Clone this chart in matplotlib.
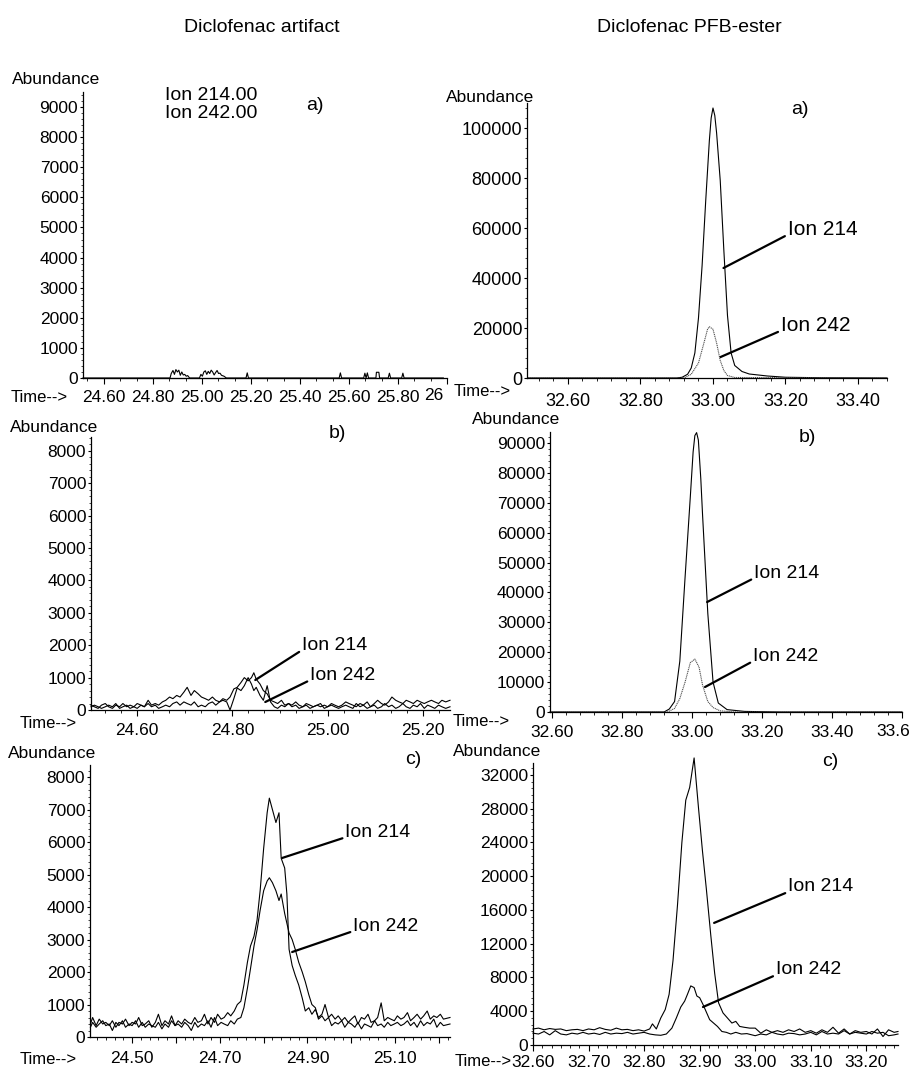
import matplotlib.pyplot as plt
from matplotlib.ticker import AutoMinorLocator

plt.rcParams["font.family"] = ["Liberation Sans", "DejaVu Sans"]

W, H = 911, 1071

# ---------------- Diclofenac artifact (left column) ----------------
# a) only a few small blips near zero
art_a_t214 = [24.515, 24.87, 24.875, 24.882, 24.888, 24.894, 24.90, 24.906, 24.912, 24.918,
              24.924, 24.93, 24.936, 24.942, 24.95, 24.99, 24.996, 25.002, 25.008, 25.014,
              25.02, 25.026, 25.032, 25.038, 25.044, 25.05, 25.056, 25.062, 25.068, 25.074,
              25.08, 25.09, 25.10, 25.18, 25.185, 25.19, 25.56, 25.565, 25.57, 25.66,
              25.665, 25.67, 25.675, 25.68, 25.71, 25.712, 25.722, 25.725, 25.76, 25.765,
              25.77, 25.815, 25.82, 25.825, 25.985]
art_a_y214 = [0, 0, 150, 250, 120, 280, 200, 260, 90, 200,
              100, 120, 60, 80, 0, 0, 120, 60, 200, 240,
              120, 220, 150, 260, 200, 100, 180, 250, 150, 160,
              90, 60, 0, 0, 170, 0, 0, 170, 0, 0,
              160, 0, 170, 0, 0, 190, 190, 0, 0, 160,
              0, 0, 160, 0, 0]
art_a_t242 = [24.515, 25.985]
art_a_y242 = [0, 0]

# b)
art_b_t = [24.503, 24.51, 24.518, 24.525, 24.533, 24.54, 24.548, 24.555, 24.563, 24.57,
           24.578, 24.585, 24.593, 24.60, 24.608, 24.615, 24.623, 24.63, 24.638, 24.645,
           24.653, 24.66, 24.668, 24.675, 24.683, 24.69, 24.698, 24.705, 24.713, 24.72,
           24.728, 24.735, 24.743, 24.75, 24.758, 24.765, 24.773, 24.78, 24.788, 24.795,
           24.803, 24.81, 24.818, 24.825, 24.833, 24.84, 24.845, 24.85, 24.858, 24.865,
           24.873, 24.88, 24.888, 24.895, 24.903, 24.91, 24.918, 24.925, 24.933, 24.94,
           24.948, 24.955, 24.963, 24.97, 24.978, 24.985, 24.993, 25.00, 25.008, 25.015,
           25.023, 25.03, 25.038, 25.045, 25.053, 25.06, 25.068, 25.075, 25.083, 25.09,
           25.098, 25.105, 25.113, 25.12, 25.128, 25.135, 25.143, 25.15, 25.158, 25.165,
           25.173, 25.18, 25.188, 25.195, 25.203, 25.21, 25.218, 25.225, 25.233, 25.24,
           25.248, 25.257]
art_b_y214 = [150, 100, 50, 150, 200, 100, 50, 150, 100, 200,
              100, 150, 100, 200, 150, 100, 300, 150, 200, 150,
              250, 300, 400, 350, 450, 400, 550, 700, 450, 600,
              500, 400, 350, 300, 400, 300, 250, 350, 300, 400,
              650, 700, 850, 1000, 900, 1000, 1150, 950, 800, 600,
              500, 300, 250, 200, 300, 150, 200, 150, 250, 150,
              100, 200, 150, 100, 150, 100, 150, 100, 200, 150,
              100, 150, 250, 200, 150, 100, 200, 150, 250, 100,
              200, 300, 200, 150, 250, 400, 300, 250, 200, 300,
              250, 200, 300, 250, 200, 250, 300, 250, 200, 300,
              250, 300]
art_b_y242 = [100, 150, 100, 50, 100, 150, 100, 200, 50, 100,
              150, 50, 100, 50, 150, 100, 200, 100, 150, 50,
              100, 150, 100, 200, 250, 150, 250, 200, 150, 250,
              100, 150, 100, 200, 250, 150, 250, 300, 250, 0,
              350, 680, 600, 750, 1000, 800, 600, 700, 450, 300,
              750, 250, 100, 50, 150, 100, 200, 100, 150, 50,
              100, 150, 50, 100, 150, 200, 50, 100, 150, 100,
              50, 100, 150, 100, 50, 200, 100, 150, 50, 100,
              150, 50, 100, 200, 100, 150, 50, 100, 200, 100,
              50, 150, 100, 200, 50, 150, 100, 50, 150, 100,
              50, 100]

# c)
art_c_t = [24.405, 24.41, 24.418, 24.425, 24.433, 24.44, 24.448, 24.455, 24.463, 24.47,
           24.478, 24.485, 24.493, 24.50, 24.508, 24.515, 24.523, 24.53, 24.538, 24.545,
           24.553, 24.56, 24.568, 24.575, 24.583, 24.59, 24.598, 24.605, 24.613, 24.62,
           24.628, 24.635, 24.643, 24.65, 24.658, 24.665, 24.673, 24.68, 24.688, 24.695,
           24.703, 24.71, 24.718, 24.725, 24.733, 24.74, 24.748, 24.755, 24.763, 24.77,
           24.778, 24.785, 24.792, 24.80, 24.808, 24.813, 24.82, 24.828, 24.835, 24.84,
           24.848, 24.853, 24.858, 24.865, 24.872, 24.88, 24.888, 24.895, 24.903, 24.91,
           24.918, 24.925, 24.933, 24.94, 24.948, 24.955, 24.963, 24.97, 24.978, 24.985,
           24.993, 25.00, 25.008, 25.015, 25.023, 25.03, 25.038, 25.045, 25.053, 25.06,
           25.068, 25.075, 25.083, 25.09, 25.098, 25.105, 25.113, 25.12, 25.128, 25.135,
           25.143, 25.15, 25.158, 25.165, 25.173, 25.18, 25.188, 25.195, 25.203, 25.21,
           25.225]
art_c_y214 = [400, 600, 350, 550, 400, 450, 350, 500, 300, 450,
              400, 550, 350, 450, 400, 600, 350, 400, 500, 300,
              450, 700, 350, 500, 400, 650, 350, 500, 400, 550,
              450, 400, 600, 450, 500, 700, 400, 600, 450, 700,
              550, 600, 750, 650, 800, 1000, 1100, 1600, 2300, 2800,
              3100, 3600, 4500, 5800, 6900, 7350, 7000, 6600, 6900, 5500,
              5200, 4400, 2700, 2200, 1900, 1600, 1200, 800, 900, 700,
              850, 600, 700, 1000, 600, 700, 550, 650, 500, 600,
              450, 550, 650, 400, 600, 550, 700, 450, 500, 600,
              1050, 500, 600, 550, 500, 650, 550, 600, 750, 500,
              600, 700, 550, 650, 800, 550, 650, 600, 700, 550,
              600]
art_c_y242 = [300, 450, 300, 400, 500, 350, 400, 200, 450, 350,
              500, 300, 400, 350, 500, 300, 450, 300, 400, 350,
              300, 450, 250, 400, 300, 500, 350, 400, 300, 450,
              350, 200, 450, 300, 400, 350, 500, 300, 600, 350,
              450, 400, 350, 500, 400, 550, 600, 900, 1500, 2100,
              2800, 3300, 3900, 4500, 4800, 4900, 4750, 4500, 4200, 4400,
              3800, 3500, 3200, 3000, 2700, 2300, 2000, 1700, 1300, 1000,
              900, 550, 650, 500, 600, 350, 450, 400, 500, 300,
              450, 400, 300, 450, 250, 400, 350, 300, 500, 350,
              400, 300, 450, 350, 400, 450, 350, 400, 500, 350,
              450, 300, 500, 350, 450, 400, 550, 300, 450, 350,
              400]

# ---------------- Diclofenac PFB-ester (right column) ----------------
pfb_a_t214 = [32.49, 32.90, 32.915, 32.93, 32.94, 32.95, 32.96, 32.97, 32.98, 32.99,
              32.995, 33.00, 33.005, 33.01, 33.02, 33.03, 33.04, 33.05, 33.06, 33.08,
              33.10, 33.15, 33.20, 33.30, 33.48]
pfb_a_y214 = [0, 0, 300, 1500, 4000, 10000, 24000, 45000, 71000, 95000,
              104000, 108000, 105000, 98000, 79000, 51000, 25000, 10000, 5000, 2600,
              1600, 800, 300, 100, 0]
pfb_a_t242 = [32.49, 32.92, 32.94, 32.96, 32.975, 32.985, 32.99, 33.00, 33.01, 33.02,
              33.03, 33.04, 33.06, 33.48]
pfb_a_y242 = [0, 0, 1500, 6000, 14000, 19500, 20500, 19500, 14000, 7000,
              3000, 1000, 200, 0]

pfb_b_t214 = [32.594, 32.92, 32.935, 32.95, 32.965, 32.98, 32.995, 33.003, 33.008, 33.013,
              33.018, 33.025, 33.03, 33.045, 33.06, 33.075, 33.10, 33.15, 33.25, 33.60]
pfb_b_y214 = [0, 0, 1000, 3500, 17000, 45000, 72000, 87000, 92500, 93500,
              91000, 78000, 66000, 33000, 10000, 3000, 800, 200, 0, 0]
pfb_b_t242 = [32.594, 32.93, 32.95, 32.965, 32.98, 32.995, 33.008, 33.02, 33.03, 33.045,
              33.06, 33.08, 33.12, 33.60]
pfb_b_y242 = [0, 0, 1200, 4500, 10000, 16500, 17700, 15000, 9000, 3500,
              1500, 400, 0, 0]

pfb_c_t214 = [32.600, 32.610, 32.620, 32.630, 32.640, 32.650, 32.660, 32.670, 32.680, 32.690,
              32.700, 32.710, 32.720, 32.730, 32.740, 32.750, 32.760, 32.770, 32.780, 32.790,
              32.800, 32.810, 32.815, 32.822, 32.830, 32.838, 32.845, 32.852, 32.860, 32.868,
              32.875, 32.882, 32.890, 32.898, 32.905, 32.912, 32.920, 32.927, 32.934, 32.942,
              32.950, 32.958, 32.965, 32.972, 32.980, 32.990, 33.000, 33.010, 33.020, 33.030,
              33.040, 33.050, 33.060, 33.070, 33.080, 33.090, 33.100, 33.110, 33.120, 33.130,
              33.140, 33.150, 33.160, 33.170, 33.180, 33.190, 33.200, 33.210, 33.220, 33.230,
              33.240, 33.250, 33.257]
pfb_c_y214 = [1900, 2000, 1800, 1950, 1850, 1900, 1700, 1800, 1850, 1700,
              1900, 1800, 2050, 1850, 1750, 2000, 1800, 1850, 1700, 1800,
              1650, 1900, 2500, 1900, 3200, 4200, 6000, 10000, 16500, 24000,
              29000, 30500, 34000, 28000, 23000, 18500, 13000, 8500, 5000, 3800,
              3200, 2600, 2800, 2200, 2100, 2000, 2000, 1400, 1800, 1500,
              1700, 1500, 1800, 1600, 1900, 1500, 1700, 1400, 1800, 1500,
              2100, 1400, 1900, 1300, 1700, 1500, 1600, 1300, 1900, 1000,
              1800, 1500, 1600]
pfb_c_t242 = [32.600, 32.610, 32.620, 32.630, 32.640, 32.650, 32.660, 32.670, 32.680, 32.690,
              32.700, 32.710, 32.720, 32.730, 32.740, 32.750, 32.760, 32.770, 32.780, 32.790,
              32.800, 32.810, 32.820, 32.830, 32.840, 32.850, 32.858, 32.866, 32.873, 32.878,
              32.884, 32.890, 32.895, 32.900, 32.906, 32.912, 32.918, 32.925, 32.932, 32.940,
              32.948, 32.956, 32.965, 32.975, 32.985, 33.000, 33.010, 33.020, 33.030, 33.040,
              33.050, 33.060, 33.070, 33.080, 33.090, 33.100, 33.110, 33.120, 33.130, 33.140,
              33.150, 33.160, 33.170, 33.180, 33.190, 33.200, 33.210, 33.220, 33.230, 33.240,
              33.250, 33.257]
pfb_c_y242 = [1400, 1300, 1600, 1200, 1700, 1300, 1200, 1400, 1300, 1500,
              1300, 1400, 1250, 1500, 1300, 1400, 1350, 1500, 1300, 1400,
              1500, 1300, 1200, 1150, 1300, 2000, 3200, 4500, 5200, 6000,
              7000, 6800, 5800, 5600, 4800, 3900, 3000, 2600, 2200, 1600,
              1500, 1300, 1500, 1300, 1350, 1100, 1300, 1200, 1500, 1300,
              1200, 1400, 1350, 1200, 1300, 1500, 1200, 1600, 1300, 1400,
              1300, 1700, 1300, 1500, 1400, 1300, 1600, 1400, 1500, 1100,
              1200, 1300]

# tick labels (the last label of a) and b) is cut off in the original, drawn separately)
art_a_xticks = [24.6, 24.8, 25.0, 25.2, 25.4, 25.6, 25.8, 26.0]
art_a_xlabels = ["24.60", "24.80", "25.00", "25.20", "25.40", "25.60", "25.80", ""]
art_a_yticks = [0, 1000, 2000, 3000, 4000, 5000, 6000, 7000, 8000, 9000]
art_b_xticks = [24.6, 24.8, 25.0, 25.2]
art_b_xlabels = ["24.60", "24.80", "25.00", "25.20"]
art_b_yticks = [0, 1000, 2000, 3000, 4000, 5000, 6000, 7000, 8000]
art_c_xticks = [24.5, 24.6, 24.7, 24.8, 24.9, 25.0, 25.1, 25.2]
art_c_xlabels = ["24.50", "", "24.70", "", "24.90", "", "25.10", ""]
art_c_yticks = [0, 1000, 2000, 3000, 4000, 5000, 6000, 7000, 8000]
pfb_a_xticks = [32.6, 32.8, 33.0, 33.2, 33.4]
pfb_a_xlabels = ["32.60", "32.80", "33.00", "33.20", "33.40"]
pfb_a_yticks = [0, 20000, 40000, 60000, 80000, 100000]
pfb_b_xticks = [32.6, 32.8, 33.0, 33.2, 33.4, 33.6]
pfb_b_xlabels = ["32.60", "32.80", "33.00", "33.20", "33.40", ""]
pfb_b_yticks = [0, 10000, 20000, 30000, 40000, 50000, 60000, 70000, 80000, 90000]
pfb_c_xticks = [32.6, 32.7, 32.8, 32.9, 33.0, 33.1, 33.2]
pfb_c_xlabels = ["32.60", "32.70", "32.80", "32.90", "33.00", "33.10", "33.20"]
pfb_c_yticks = [0, 4000, 8000, 12000, 16000, 20000, 24000, 28000, 32000]


def px_to_fig(px, py):
    return px / W, 1 - py / H


def make_axes(fig, box, xlim, ylim, xticks, xlabels, yticks, xminor, xpad, fs=12.5):
    l, t, r, b = box
    ax = fig.add_axes([l / W, 1 - b / H, (r - l) / W, (b - t) / H])
    ax.set_xlim(*xlim)
    ax.set_ylim(*ylim)
    ax.spines["top"].set_visible(False)
    ax.spines["right"].set_visible(False)
    ax.spines["left"].set_linewidth(0.9)
    ax.spines["bottom"].set_linewidth(0.9)
    ax.set_xticks(xticks, xlabels)
    ax.set_yticks(yticks, [str(v) for v in yticks])
    ax.xaxis.set_minor_locator(AutoMinorLocator(xminor))
    ax.yaxis.set_minor_locator(AutoMinorLocator(5))
    ax.tick_params(axis="x", which="major", direction="out", length=4, width=0.8,
                   labelsize=fs, pad=xpad)
    ax.tick_params(axis="x", which="minor", direction="out", length=2.5, width=0.6)
    ax.tick_params(axis="y", which="major", direction="out", length=2, width=0.8,
                   labelsize=fs, pad=1.5)
    ax.tick_params(axis="y", which="minor", direction="out", length=1.2, width=0.5)
    ax.patch.set_alpha(0)
    return ax


def ion_label(ax, text, xy, xytext, fs=14):
    ax.annotate(text, xy=xy, xytext=xytext, fontsize=fs, ha="left", va="center",
                arrowprops=dict(arrowstyle="-", lw=1.6, color="black",
                                shrinkA=0, shrinkB=0, relpos=(0, 0.2)))


def main():
    fig = plt.figure(figsize=(W / 100, H / 100), dpi=100)

    solid = dict(color="black", lw=0.8, clip_on=False)
    dotted = dict(color="0.3", lw=0.8, ls=(0, (1, 0.7)), clip_on=False)

    # column titles
    fig.text(*px_to_fig(262, 27), "Diclofenac artifact", fontsize=14, ha="center", va="center")
    fig.text(*px_to_fig(689, 27), "Diclofenac PFB-ester", fontsize=14, ha="center", va="center")

    # left a
    ax = make_axes(fig, (83, 92, 447, 378), (24.515, 26.0), (0, 9500),
                   art_a_xticks, art_a_xlabels, art_a_yticks, 3, 4.7)
    ax.plot(art_a_t214, art_a_y214, **solid)
    ax.plot(art_a_t242, art_a_y242, **solid)
    fig.text(*px_to_fig(12, 80), "Abundance", fontsize=12.5, ha="left", va="center")
    fig.text(*px_to_fig(165, 95), "Ion 214.00", fontsize=14, ha="left", va="center")
    fig.text(*px_to_fig(165, 113), "Ion 242.00", fontsize=14, ha="left", va="center")
    fig.text(*px_to_fig(315, 106), "a)", fontsize=14, ha="center", va="center")
    fig.text(*px_to_fig(11, 397), "Time-->", fontsize=12, ha="left", va="center")
    fig.text(*px_to_fig(434, 396), "26", fontsize=12.5, ha="center", va="center")

    # right a
    ax = make_axes(fig, (527, 103, 887, 378), (32.487, 33.48), (0, 110000),
                   pfb_a_xticks, pfb_a_xlabels, pfb_a_yticks, 5, 6.8, fs=13)
    ax.plot(pfb_a_t214, pfb_a_y214, **solid)
    ax.plot(pfb_a_t242, pfb_a_y242, **dotted)
    ion_label(ax, "Ion 214", (33.029, 44000), (33.206, 59600), fs=15)
    ion_label(ax, "Ion 242", (33.021, 8400), (33.187, 21200), fs=15)
    fig.text(*px_to_fig(446, 98), "Abundance", fontsize=12.5, ha="left", va="center")
    fig.text(*px_to_fig(800, 110), "a)", fontsize=14, ha="center", va="center")
    fig.text(*px_to_fig(454, 392), "Time-->", fontsize=12, ha="left", va="center")

    # left b
    ax = make_axes(fig, (91, 437, 450, 710), (24.503, 25.257), (0, 8430),
                   art_b_xticks, art_b_xlabels, art_b_yticks, 6, 5.4)
    ax.plot(art_b_t, art_b_y214, **solid)
    ax.plot(art_b_t, art_b_y242, **solid)
    ion_label(ax, "Ion 214", (24.848, 926), (24.946, 2006))
    ion_label(ax, "Ion 242", (24.869, 247), (24.963, 1080))
    fig.text(*px_to_fig(10, 427), "Abundance", fontsize=12.5, ha="left", va="center")
    fig.text(*px_to_fig(337, 433), "b)", fontsize=14, ha="center", va="center")
    fig.text(*px_to_fig(20, 723), "Time-->", fontsize=12, ha="left", va="center")

    # right b
    ax = make_axes(fig, (550, 432, 902, 712), (32.594, 33.60), (0, 93700),
                   pfb_b_xticks, pfb_b_xlabels, pfb_b_yticks, 5, 5.4)
    ax.plot(pfb_b_t214, pfb_b_y214, **solid)
    ax.plot(pfb_b_t242, pfb_b_y242, **dotted)
    ion_label(ax, "Ion 214", (33.043, 36800), (33.177, 46500))
    ion_label(ax, "Ion 242", (33.037, 8360), (33.174, 18700))
    fig.text(*px_to_fig(472, 420), "Abundance", fontsize=12.5, ha="left", va="center")
    fig.text(*px_to_fig(807, 437), "b)", fontsize=14, ha="center", va="center")
    fig.text(*px_to_fig(453, 722), "Time-->", fontsize=12, ha="left", va="center")
    fig.text(*px_to_fig(893, 732), "33.6", fontsize=12.5, ha="center", va="center")

    # left c
    ax = make_axes(fig, (90, 765, 450, 1037), (24.404, 25.225), (0, 8370),
                   art_c_xticks, art_c_xlabels, art_c_yticks, 5, 6.1)
    ax.plot(art_c_t, art_c_y214, **solid)
    ax.plot(art_c_t, art_c_y242, **solid)
    ion_label(ax, "Ion 214", (24.842, 5508), (24.986, 6300))
    ion_label(ax, "Ion 242", (24.865, 2615), (25.004, 3415))
    fig.text(*px_to_fig(8, 753), "Abundance", fontsize=12.5, ha="left", va="center")
    fig.text(*px_to_fig(413, 760), "c)", fontsize=14, ha="center", va="center")
    fig.text(*px_to_fig(20, 1060), "Time-->", fontsize=12, ha="left", va="center")

    # right c
    ax = make_axes(fig, (533, 763, 898, 1045), (32.60, 33.257), (0, 33400),
                   pfb_c_xticks, pfb_c_xlabels, pfb_c_yticks, 6, 3.2)
    ax.plot(pfb_c_t214, pfb_c_y214, **solid)
    ax.plot(pfb_c_t242, pfb_c_y242, **solid)
    ion_label(ax, "Ion 214", (32.926, 14460), (33.059, 18730))
    ion_label(ax, "Ion 242", (32.906, 4500), (33.037, 8890))
    fig.text(*px_to_fig(453, 751), "Abundance", fontsize=12.5, ha="left", va="center")
    fig.text(*px_to_fig(830, 762), "c)", fontsize=14, ha="center", va="center")
    fig.text(*px_to_fig(455, 1062), "Time-->", fontsize=12, ha="left", va="center")

    fig.savefig("out.png", dpi=100)
    plt.close(fig)


if __name__ == "__main__":
    main()
